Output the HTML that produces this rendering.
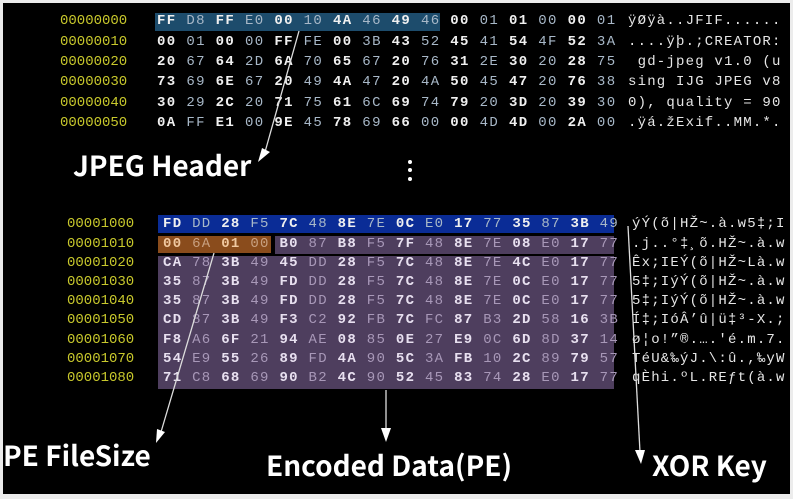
<!DOCTYPE html>
<html><head><meta charset="utf-8"><style>
html,body{margin:0;padding:0}
body{width:793px;height:499px;background:#ececec;position:relative;overflow:hidden}
#bg{position:absolute;left:3px;top:3px;width:787px;height:491px;background:#000}
.r{position:absolute;font-family:"Liberation Mono",monospace;font-size:14px;line-height:18px;white-space:pre}
.o{color:#c8c82c}
.h{letter-spacing:1.37px}
.h2{letter-spacing:1.3px}
.b{color:#f0f0f0;font-weight:bold}
.d{color:#a8b8c8}
.p .b{color:#e8e0f0}
.p .d{color:#a898b8}
.a{color:#e6e6e6;letter-spacing:1.2px}
.box{position:absolute}
.lbl{position:absolute;color:#fff;font-family:"Noto Sans CJK KR","Liberation Sans",sans-serif;font-weight:bold;font-size:28px;line-height:34px;white-space:nowrap}
</style></head><body>
<div id="bg"></div>
<div class="box" style="left:155px;top:13px;width:285px;height:18px;background:#1d4c6c"></div>
<div class="box" style="left:158px;top:215px;width:456px;height:18px;background:#0a2c96"></div>
<div class="box" style="left:158px;top:236px;width:113px;height:17px;background:#8a4c1c"></div>
<div class="box" style="left:275px;top:236px;width:339px;height:18px;background:#4e3e5e"></div>
<div class="box" style="left:158px;top:256px;width:456px;height:133px;background:#4e3e5e"></div>

<div class="r o" style="left:60px;top:12px">00000000</div>
<div class="r o" style="left:60px;top:33px">00000010</div>
<div class="r o" style="left:60px;top:53px">00000020</div>
<div class="r o" style="left:60px;top:73px">00000030</div>
<div class="r o" style="left:60px;top:94px">00000040</div>
<div class="r o" style="left:60px;top:114px">00000050</div>

<div class="r h" style="left:157px;top:12px"><span class="b">FF</span> <span class="d">D8</span> <span class="b">FF</span> <span class="d">E0</span> <span class="b">00</span> <span class="d">10</span> <span class="b">4A</span> <span class="d">46</span> <span class="b">49</span> <span class="d">46</span> <span class="b">00</span> <span class="d">01</span> <span class="b">01</span> <span class="d">00</span> <span class="b">00</span> <span class="d">01</span></div>
<div class="r h" style="left:157px;top:33px"><span class="b">00</span> <span class="d">01</span> <span class="b">00</span> <span class="d">00</span> <span class="b">FF</span> <span class="d">FE</span> <span class="b">00</span> <span class="d">3B</span> <span class="b">43</span> <span class="d">52</span> <span class="b">45</span> <span class="d">41</span> <span class="b">54</span> <span class="d">4F</span> <span class="b">52</span> <span class="d">3A</span></div>
<div class="r h" style="left:157px;top:53px"><span class="b">20</span> <span class="d">67</span> <span class="b">64</span> <span class="d">2D</span> <span class="b">6A</span> <span class="d">70</span> <span class="b">65</span> <span class="d">67</span> <span class="b">20</span> <span class="d">76</span> <span class="b">31</span> <span class="d">2E</span> <span class="b">30</span> <span class="d">20</span> <span class="b">28</span> <span class="d">75</span></div>
<div class="r h" style="left:157px;top:73px"><span class="b">73</span> <span class="d">69</span> <span class="b">6E</span> <span class="d">67</span> <span class="b">20</span> <span class="d">49</span> <span class="b">4A</span> <span class="d">47</span> <span class="b">20</span> <span class="d">4A</span> <span class="b">50</span> <span class="d">45</span> <span class="b">47</span> <span class="d">20</span> <span class="b">76</span> <span class="d">38</span></div>
<div class="r h" style="left:157px;top:94px"><span class="b">30</span> <span class="d">29</span> <span class="b">2C</span> <span class="d">20</span> <span class="b">71</span> <span class="d">75</span> <span class="b">61</span> <span class="d">6C</span> <span class="b">69</span> <span class="d">74</span> <span class="b">79</span> <span class="d">20</span> <span class="b">3D</span> <span class="d">20</span> <span class="b">39</span> <span class="d">30</span></div>
<div class="r h" style="left:157px;top:114px"><span class="b">0A</span> <span class="d">FF</span> <span class="b">E1</span> <span class="d">00</span> <span class="b">9E</span> <span class="d">45</span> <span class="b">78</span> <span class="d">69</span> <span class="b">66</span> <span class="d">00</span> <span class="b">00</span> <span class="d">4D</span> <span class="b">4D</span> <span class="d">00</span> <span class="b">2A</span> <span class="d">00</span></div>

<div class="r a" style="left:628px;top:12px">ÿØÿà..JFIF......</div>
<div class="r a" style="left:628px;top:33px">....ÿþ.;CREATOR:</div>
<div class="r a" style="left:628px;top:53px"> gd-jpeg v1.0 (u</div>
<div class="r a" style="left:628px;top:73px">sing IJG JPEG v8</div>
<div class="r a" style="left:628px;top:94px">0), quality = 90</div>
<div class="r a" style="left:628px;top:114px">.ÿá.žExif..MM.*.</div>

<div class="r o" style="left:67px;top:215px">00001000</div>
<div class="r o" style="left:67px;top:235px">00001010</div>
<div class="r o" style="left:67px;top:254px">00001020</div>
<div class="r o" style="left:67px;top:273px">00001030</div>
<div class="r o" style="left:67px;top:292px">00001040</div>
<div class="r o" style="left:67px;top:311px">00001050</div>
<div class="r o" style="left:67px;top:331px">00001060</div>
<div class="r o" style="left:67px;top:350px">00001070</div>
<div class="r o" style="left:67px;top:369px">00001080</div>

<div class="r h2" style="left:163px;top:215px"><span class="b">FD</span> <span class="d">DD</span> <span class="b">28</span> <span class="d">F5</span> <span class="b">7C</span> <span class="d">48</span> <span class="b">8E</span> <span class="d">7E</span> <span class="b">0C</span> <span class="d">E0</span> <span class="b">17</span> <span class="d">77</span> <span class="b">35</span> <span class="d">87</span> <span class="b">3B</span> <span class="d">49</span></div>
<div class="r h2 p" style="left:163px;top:235px"><span class="b" style="color:#f0c8a0">00</span> <span class="d" style="color:#c8a080">6A</span> <span class="b" style="color:#f0c8a0">01</span> <span class="d" style="color:#c8a080">00</span> <span class="b">B0</span> <span class="d">87</span> <span class="b">B8</span> <span class="d">F5</span> <span class="b">7F</span> <span class="d">48</span> <span class="b">8E</span> <span class="d">7E</span> <span class="b">08</span> <span class="d">E0</span> <span class="b">17</span> <span class="d">77</span></div>
<div class="r h2 p" style="left:163px;top:254px"><span class="b">CA</span> <span class="d">78</span> <span class="b">3B</span> <span class="d">49</span> <span class="b">45</span> <span class="d">DD</span> <span class="b">28</span> <span class="d">F5</span> <span class="b">7C</span> <span class="d">48</span> <span class="b">8E</span> <span class="d">7E</span> <span class="b">4C</span> <span class="d">E0</span> <span class="b">17</span> <span class="d">77</span></div>
<div class="r h2 p" style="left:163px;top:273px"><span class="b">35</span> <span class="d">87</span> <span class="b">3B</span> <span class="d">49</span> <span class="b">FD</span> <span class="d">DD</span> <span class="b">28</span> <span class="d">F5</span> <span class="b">7C</span> <span class="d">48</span> <span class="b">8E</span> <span class="d">7E</span> <span class="b">0C</span> <span class="d">E0</span> <span class="b">17</span> <span class="d">77</span></div>
<div class="r h2 p" style="left:163px;top:292px"><span class="b">35</span> <span class="d">87</span> <span class="b">3B</span> <span class="d">49</span> <span class="b">FD</span> <span class="d">DD</span> <span class="b">28</span> <span class="d">F5</span> <span class="b">7C</span> <span class="d">48</span> <span class="b">8E</span> <span class="d">7E</span> <span class="b">0C</span> <span class="d">E0</span> <span class="b">17</span> <span class="d">77</span></div>
<div class="r h2 p" style="left:163px;top:311px"><span class="b">CD</span> <span class="d">87</span> <span class="b">3B</span> <span class="d">49</span> <span class="b">F3</span> <span class="d">C2</span> <span class="b">92</span> <span class="d">FB</span> <span class="b">7C</span> <span class="d">FC</span> <span class="b">87</span> <span class="d">B3</span> <span class="b">2D</span> <span class="d">58</span> <span class="b">16</span> <span class="d">3B</span></div>
<div class="r h2 p" style="left:163px;top:331px"><span class="b">F8</span> <span class="d">A6</span> <span class="b">6F</span> <span class="d">21</span> <span class="b">94</span> <span class="d">AE</span> <span class="b">08</span> <span class="d">85</span> <span class="b">0E</span> <span class="d">27</span> <span class="b">E9</span> <span class="d">0C</span> <span class="b">6D</span> <span class="d">8D</span> <span class="b">37</span> <span class="d">14</span></div>
<div class="r h2 p" style="left:163px;top:350px"><span class="b">54</span> <span class="d">E9</span> <span class="b">55</span> <span class="d">26</span> <span class="b">89</span> <span class="d">FD</span> <span class="b">4A</span> <span class="d">90</span> <span class="b">5C</span> <span class="d">3A</span> <span class="b">FB</span> <span class="d">10</span> <span class="b">2C</span> <span class="d">89</span> <span class="b">79</span> <span class="d">57</span></div>
<div class="r h2 p" style="left:163px;top:369px"><span class="b">71</span> <span class="d">C8</span> <span class="b">68</span> <span class="d">69</span> <span class="b">90</span> <span class="d">B2</span> <span class="b">4C</span> <span class="d">90</span> <span class="b">52</span> <span class="d">45</span> <span class="b">83</span> <span class="d">74</span> <span class="b">28</span> <span class="d">E0</span> <span class="b">17</span> <span class="d">77</span></div>

<div class="r a" style="left:632px;top:215px">ýÝ(õ|HŽ~.à.w5‡;I</div>
<div class="r a" style="left:632px;top:235px">.j..°‡¸õ.HŽ~.à.w</div>
<div class="r a" style="left:632px;top:254px">Êx;IEÝ(õ|HŽ~Là.w</div>
<div class="r a" style="left:632px;top:273px">5‡;IýÝ(õ|HŽ~.à.w</div>
<div class="r a" style="left:632px;top:292px">5‡;IýÝ(õ|HŽ~.à.w</div>
<div class="r a" style="left:632px;top:311px">Í‡;IóÂ’û|ü‡³-X.;</div>
<div class="r a" style="left:632px;top:331px">ø¦o!”®.….'é.m.7.</div>
<div class="r a" style="left:632px;top:350px">TéU&amp;‰ýJ.\:û.,‰yW</div>
<div class="r a" style="left:632px;top:369px">qÈhi.ºL.REƒt(à.w</div>

<div class="lbl" style="left:73px;top:148px">JPEG Header</div>
<div class="lbl" style="left:3px;top:438px">PE FileSize</div>
<div class="lbl" style="left:266px;top:448px">Encoded Data(PE)</div>
<div class="lbl" style="left:652px;top:448px">XOR Key</div>

<svg width="793" height="499" style="position:absolute;left:0;top:0">
<g stroke="#ddd" stroke-width="1.3" fill="#fff">
<line x1="299" y1="31" x2="265" y2="152"/>
<polygon points="258,162 262,148 270,152" stroke="none"/>
<line x1="214" y1="253" x2="161" y2="432"/>
<polygon points="156,443 157,429 165,432" stroke="none"/>
<line x1="386" y1="390" x2="386" y2="430"/>
<polygon points="386,442 381,428 391,428" stroke="none"/>
<line x1="628" y1="226" x2="640" y2="452"/>
<polygon points="641,464 635,450 645,450" stroke="none"/>
</g>
<g fill="#fff"><circle cx="410" cy="162" r="2"/><circle cx="410" cy="170" r="2"/><circle cx="410" cy="179" r="2"/></g>
</svg>
</body></html>
